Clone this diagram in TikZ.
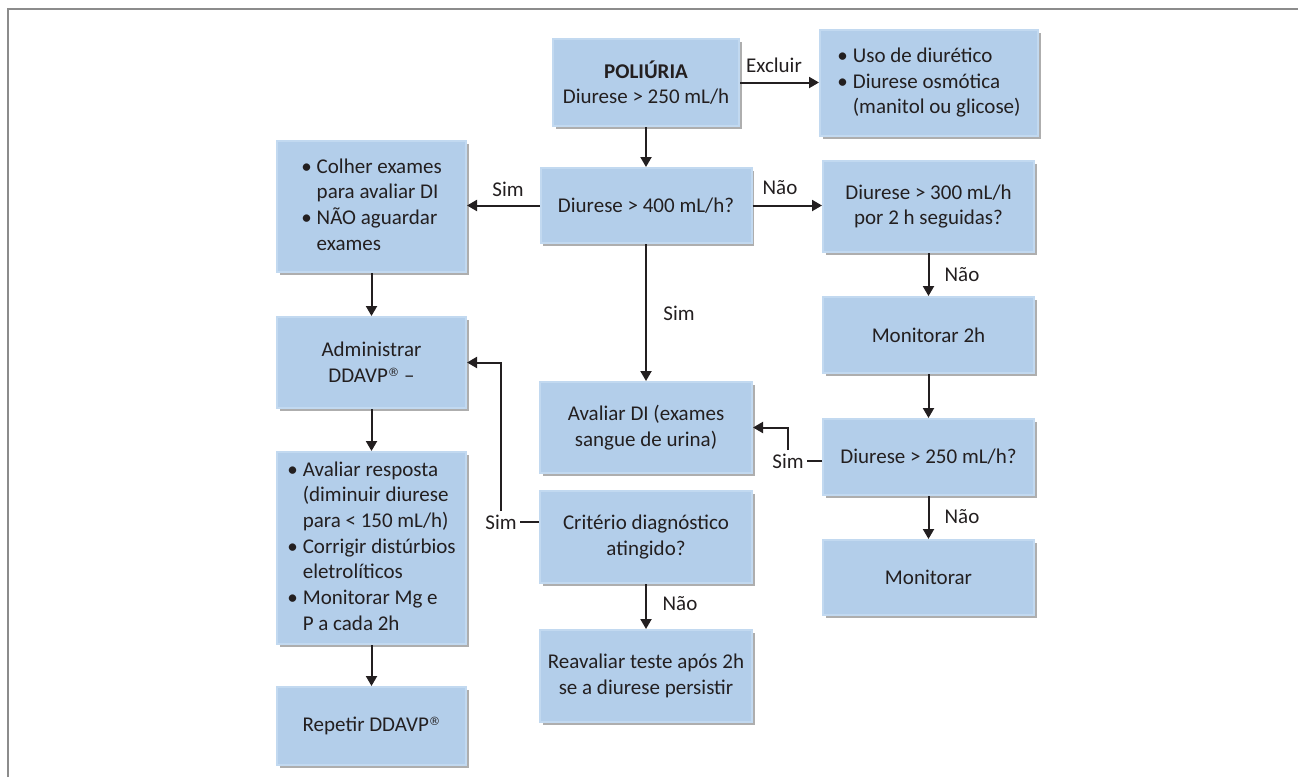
\documentclass[tikz,border=0pt]{standalone}
\usepackage{fontspec}
\setmainfont{Carlito}
\newfontfamily\regfont{DejaVu Sans}
\usetikzlibrary{arrows.meta,shadows}
\definecolor{boxblue}{RGB}{179,206,234}
\definecolor{boxedge}{RGB}{194,217,240}
\definecolor{ink}{RGB}{35,31,32}
\definecolor{framegray}{RGB}{140,140,140}
\newcommand{\bitem}{\textbullet}
% registered sign, small and raised to cap height
\newcommand{\regmark}{\raisebox{6pt}{\regfont\fontsize{11.5}{11.5}\selectfont ®}}
\tikzset{
  box/.style={fill=boxblue, draw=boxedge, line width=2pt, text=ink,
    align=center, inner sep=0pt, anchor=center,
    font=\fontsize{21}{25.7}\selectfont,
    drop shadow={shadow xshift=2.5pt, shadow yshift=-2.5pt, opacity=0.45, fill=black!70}},
  lab/.style={text=ink, font=\fontsize{21}{25.7}\selectfont},
  arr/.style={draw=ink, line width=2pt, -{Triangle[length=10pt,width=11pt]}},
  link/.style={draw=ink, line width=2pt}
}
\begin{document}
\begin{tikzpicture}[x=1pt,y=-1pt]
\useasboundingbox (0,0) rectangle (1298,777);
% page frame
\draw[framegray, line width=1.3pt] (8,777) -- (8,9) -- (1298,9);

% boxes
\node[box, minimum width=186, minimum height=87] (pol) at (646,82.5)
  {\textbf{POLIÚRIA}\\Diurese > 250 mL/h};
\node[box, minimum width=218, minimum height=106] (exc) at (929,83)
  {\begin{tabular}{@{}l@{\hspace{5pt}}l@{}}\bitem & Uso de diurético\\ \bitem & Diurese osmótica\\ & (manitol ou glicose)\end{tabular}};
\node[box, minimum width=189, minimum height=131] (colher) at (371.5,206.5)
  {\begin{tabular}{@{}l@{\hspace{5pt}}l@{}}\bitem & Colher exames\\ & para avaliar DI\\ \bitem & NÃO aguardar\\ & exames\end{tabular}};
\node[box, minimum width=211, minimum height=75] (d400) at (646,205.5)
  {Diurese > 400 mL/h?};
\node[box, minimum width=211, minimum height=91] (d300) at (928.5,206.5)
  {Diurese > 300 mL/h\\por 2 h seguidas?};
\node[box, minimum width=211, minimum height=76] (mon2) at (928.5,335)
  {Monitorar 2h};
\node[box, minimum width=211, minimum height=76] (d250) at (928.5,457)
  {Diurese > 250 mL/h?};
\node[box, minimum width=211, minimum height=75] (mon) at (928.5,577.5)
  {Monitorar};
\node[box, minimum width=189, minimum height=91] (adm) at (371.5,362.5)
  {Administrar\\DDAVP\regmark{} –};
\node[box, minimum width=212, minimum height=91] (avdi) at (646,427.5)
  {Avaliar DI (exames\\sangue de urina)};
\node[box, minimum width=212, minimum height=92] (crit) at (646,537)
  {Critério diagnóstico\\atingido?};
\node[box, minimum width=189, minimum height=192] (resp) at (371.5,548)
  {\begin{tabular}{@{}l@{\hspace{5pt}}l@{}}\bitem & Avaliar resposta\\ & (diminuir diurese\\ & para < 150 mL/h)\\ \bitem & Corrigir distúrbios\\ & eletrolíticos\\ \bitem & Monitorar Mg e\\ & P a cada 2h\end{tabular}};
\node[box, minimum width=189, minimum height=78] (rep) at (371.5,726)
  {Repetir DDAVP\regmark};
\node[box, minimum width=212, minimum height=92] (reav) at (646,676)
  {Reavaliar teste após 2h\\se a diurese persistir};

% connector labels
\node[lab] (lexc) at (774,65) {Excluir};
\node[lab] (lsim1) at (508,189) {Sim};
\node[lab] (lnao1) at (780,188) {Não};
\node[lab] (lsim2) at (679,313) {Sim};
\node[lab] (lnao2) at (962,275) {Não};
\node[lab] (lsim3) at (788,461) {Sim};
\node[lab] (lnao3) at (962,517) {Não};
\node[lab] (lsim4) at (501,522) {Sim};
\node[lab] (lnao4) at (680,604) {Não};

% connectors
\draw[arr] (pol.east) -- (pol.east -| exc.west);
\draw[arr] (pol.south) -- (pol.south |- d400.north);
\draw[arr] (d400.west) -- (d400.west -| colher.east);
\draw[arr] (d400.east) -- (d400.east -| d300.west);
\draw[arr] (d400.south) -- (d400.south |- avdi.north);
\draw[arr] (d300.south) -- (mon2.north);
\draw[arr] (mon2.south) -- (d250.north);
\draw[arr] (d250.south) -- (mon.north);
\draw[link] (d250.west |- lsim3) -- (lsim3.east);
\draw[arr] (lsim3.north) |- (avdi.east);
\draw[link] (crit.west |- lsim4) -- (lsim4.east);
\draw[arr] (lsim4.north) |- (adm.east);
\draw[arr] (crit.south) -- (crit.south |- reav.north);
\draw[arr] (colher.south) -- (adm.north);
\draw[arr] (adm.south) -- (resp.north);
\draw[arr] (resp.south) -- (rep.north);
\end{tikzpicture}
\end{document}
